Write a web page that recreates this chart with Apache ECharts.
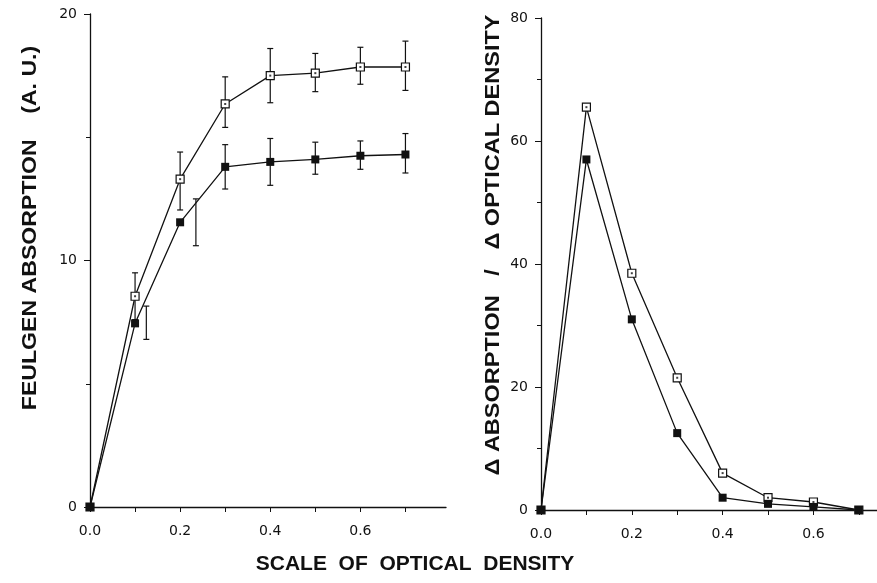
<!DOCTYPE html>
<html>
<head>
<meta charset="utf-8">
<script src="https://cdn.jsdelivr.net/npm/echarts@6/dist/echarts.min.js"></script>
<style>
  html, body { margin: 0; padding: 0; background: #fff; }
  #chart { width: 877px; height: 583px; }
</style>
</head>
<body>
<div id="chart"></div>
<script>
// optical density scale (shared x values)
const density = [0, 0.1, 0.2, 0.3, 0.4, 0.5, 0.6, 0.7];

// left panel: Feulgen absorption (A. U.)
const absOpen = [0, 8.55, 13.3, 16.35, 17.5, 17.6, 17.85, 17.85];
const absFilled = [0, 7.45, 11.55, 13.8, 14.0, 14.1, 14.25, 14.3];
// error bars: [x, low, high]
const errOpen = [[0.1, 7.6, 9.5], [0.2, 12.05, 14.4], [0.3, 15.4, 17.45], [0.4, 16.4, 18.6],
                 [0.5, 16.85, 18.4], [0.6, 17.15, 18.65], [0.7, 16.9, 18.9]];
const errFilled = [[0.125, 6.8, 8.15], [0.235, 10.6, 12.5], [0.3, 12.9, 14.7], [0.4, 13.05, 14.95],
                   [0.5, 13.5, 14.8], [0.6, 13.7, 14.85], [0.7, 13.55, 15.15]];

// right panel: delta absorption / delta optical density
const slopeOpen = [0, 65.5, 38.5, 21.5, 6.0, 2.0, 1.3, 0];
const slopeFilled = [0, 57, 31, 12.5, 2.0, 1.0, 0.5, 0];

const xTicks = [0, 0.1, 0.2, 0.3, 0.4, 0.5, 0.6, 0.7];
const xLabels = [0, 0.2, 0.4, 0.6];

const ink = '#111';
const tickFont = 'DejaVu Sans';
const pair = (ys) => density.map((x, i) => [x, ys[i]]);

function errorBar(params, api) {
  const x = api.value(0);
  const lo = api.coord([x, api.value(1)]);
  const hi = api.coord([x, api.value(2)]);
  const w = 3;
  const st = { stroke: ink, lineWidth: 1.2 };
  return {
    type: 'group',
    children: [
      { type: 'line', shape: { x1: lo[0], y1: lo[1], x2: hi[0], y2: hi[1] }, style: st },
      { type: 'line', shape: { x1: hi[0] - w, y1: hi[1], x2: hi[0] + w, y2: hi[1] }, style: st },
      { type: 'line', shape: { x1: lo[0] - w, y1: lo[1], x2: lo[0] + w, y2: lo[1] }, style: st }
    ]
  };
}

function xAxisFor(idx, max) {
  return {
    type: 'value', gridIndex: idx, min: 0, max: max,
    axisLine: { lineStyle: { color: ink, width: 1.3 } },
    axisTick: { customValues: xTicks, length: 5, inside: false, lineStyle: { color: ink } },
    axisLabel: {
      customValues: xLabels, color: ink, fontSize: 14, margin: 17,
      fontFamily: tickFont, formatter: (v) => v.toFixed(1)
    },
    splitLine: { show: false }
  };
}

function yAxisFor(idx, max, interval) {
  return {
    type: 'value', gridIndex: idx, min: 0, max: max, interval: interval,
    axisLine: { show: true, lineStyle: { color: ink, width: 1.3 } },
    axisTick: { show: true, length: 6, lineStyle: { color: ink } },
    minorTick: { show: true, splitNumber: 2, length: 4, lineStyle: { color: ink } },
    axisLabel: { color: ink, fontSize: 14, margin: 13, fontFamily: tickFont },
    splitLine: { show: false }
  };
}

function lineSeries(data, xi, filled) {
  return {
    type: 'line', xAxisIndex: xi, yAxisIndex: xi, data: data,
    symbol: 'rect', symbolSize: 8, showAllSymbol: true,
    lineStyle: { color: ink, width: 1.3 },
    itemStyle: filled ? { color: ink } : { color: '#fff', borderColor: ink, borderWidth: 1.2 },
    z: 3, animation: false
  };
}

function dotSeries(data, xi) {
  return {
    type: 'scatter', xAxisIndex: xi, yAxisIndex: xi, data: data.filter((d, i) => i > 0),
    symbol: 'rect', symbolSize: 2, itemStyle: { color: ink }, z: 4, animation: false
  };
}

const chart = echarts.init(document.getElementById('chart'), null, { renderer: 'canvas' });
chart.setOption({
  backgroundColor: '#fff',
  animation: false,
  grid: [
    { left: 90, top: 14, width: 356, height: 493 },
    { left: 541, top: 18, width: 336, height: 492 }
  ],
  xAxis: [xAxisFor(0, 0.79), xAxisFor(1, 0.74)],
  yAxis: [yAxisFor(0, 20, 10), yAxisFor(1, 80, 20)],
  series: [
    { type: 'custom', xAxisIndex: 0, yAxisIndex: 0, renderItem: errorBar, data: errOpen, encode: { x: 0, y: [1, 2] }, z: 2 },
    { type: 'custom', xAxisIndex: 0, yAxisIndex: 0, renderItem: errorBar, data: errFilled, encode: { x: 0, y: [1, 2] }, z: 2 },
    lineSeries(pair(absOpen), 0, false),
    lineSeries(pair(absFilled), 0, true),
    dotSeries(pair(absOpen), 0),
    lineSeries(pair(slopeOpen), 1, false),
    lineSeries(pair(slopeFilled), 1, true),
    dotSeries(pair(slopeOpen), 1)
  ],
  graphic: [
    {
      type: 'text', x: 30, y: 228, rotation: Math.PI / 2, scaleX: 1.1,
      style: { text: 'FEULGEN ABSORPTION    (A. U.)', fill: ink, font: 'bold 21px "Liberation Sans"', align: 'center', verticalAlign: 'middle' }
    },
    {
      type: 'text', x: 493, y: 245, rotation: Math.PI / 2, scaleX: 1.12,
      style: { text: 'Δ ABSORPTION   /   Δ OPTICAL DENSITY', fill: ink, font: 'bold 21px "Liberation Sans"', align: 'center', verticalAlign: 'middle' }
    },
    {
      type: 'text', x: 415, y: 564,
      style: { text: 'SCALE  OF  OPTICAL  DENSITY', fill: ink, font: 'bold 21px "Liberation Sans"', align: 'center', verticalAlign: 'middle' }
    }
  ]
});
</script>
</body>
</html>
